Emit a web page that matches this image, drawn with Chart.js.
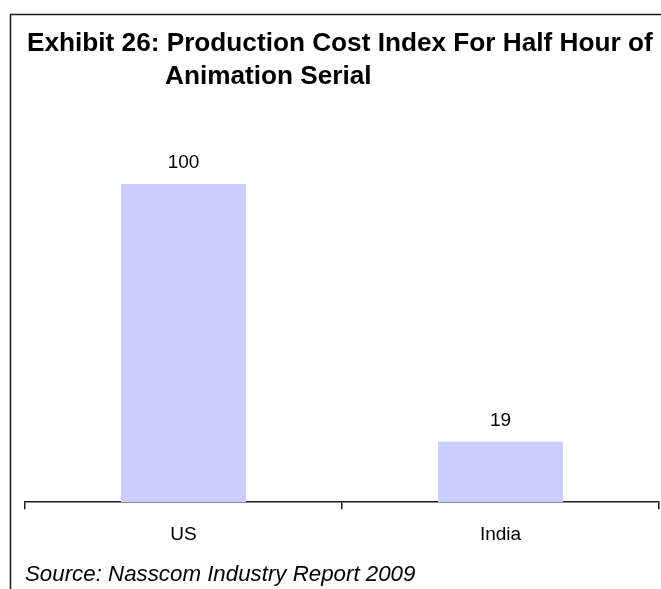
<!DOCTYPE html>
<html><head><meta charset="utf-8">
<script src="https://cdn.jsdelivr.net/npm/chart.js@4"></script>
<style>html,body{margin:0;padding:0;background:#fff;}#wrap{width:661px;height:589px;position:relative;}</style>
</head><body><div id="wrap"><canvas id="c" width="661" height="589"></canvas></div>
<script>
const categories = ["US", "India"];
const values = [100, 19];
const titleLines = ["Exhibit 26: Production Cost Index For Half Hour of", "Animation Serial"];
const sourceText = "Source: Nasscom Industry Report 2009";

const decor = {
  id: 'decor',
  afterDraw(chart) {
    const ctx = chart.ctx;
    ctx.save();
    ctx.strokeStyle = '#1a1a1a';
    ctx.lineWidth = 1.5;
    ctx.beginPath();
    ctx.moveTo(10.5, 589); ctx.lineTo(10.5, 14.5); ctx.lineTo(661, 14.5);
    ctx.stroke();
    ctx.fillStyle = '#000';
    ctx.textBaseline = 'middle';
    ctx.textAlign = 'left';
    ctx.font = 'bold 26.2px "Liberation Sans", Arial, sans-serif';
    ctx.fillText(titleLines[0], 27, 44);
    ctx.fillText(titleLines[1], 165, 77);
    ctx.font = 'italic 22.3px "Liberation Sans", Arial, sans-serif';
    ctx.fillText(sourceText, 25, 575);
    // value labels
    ctx.font = '19px "Liberation Sans", Arial, sans-serif';
    ctx.textAlign = 'center';
    const meta = chart.getDatasetMeta(0);
    meta.data.forEach((bar, i) => {
      ctx.fillText(String(values[i]), bar.x, bar.y - 21);
    });
    ctx.restore();
  }
};

new Chart(document.getElementById('c'), {
  type: 'bar',
  data: {
    labels: categories,
    datasets: [{
      data: values,
      backgroundColor: '#CCCCFF',
      borderWidth: 0,
      categoryPercentage: 1,
      barPercentage: 0.394
    }]
  },
  options: {
    responsive: false,
    animation: false,
    devicePixelRatio: 1,
    layout: { padding: { left: 25, right: 2, top: 120.5, bottom: 29 } },
    plugins: { legend: { display: false }, title: { display: false }, tooltip: { enabled: false } },
    scales: {
      x: {
        grid: { display: true, drawOnChartArea: false, drawTicks: true, tickLength: 7, color: '#1a1a1a', lineWidth: 1.5, offset: true },
        border: { display: true, color: '#1a1a1a', width: 1.5 },
        ticks: { color: '#000', font: { family: '"Liberation Sans", Arial, sans-serif', size: 19 }, padding: 14 }
      },
      y: { display: false, min: 0, max: 120 }
    }
  },
  plugins: [decor]
});
</script></body></html>
